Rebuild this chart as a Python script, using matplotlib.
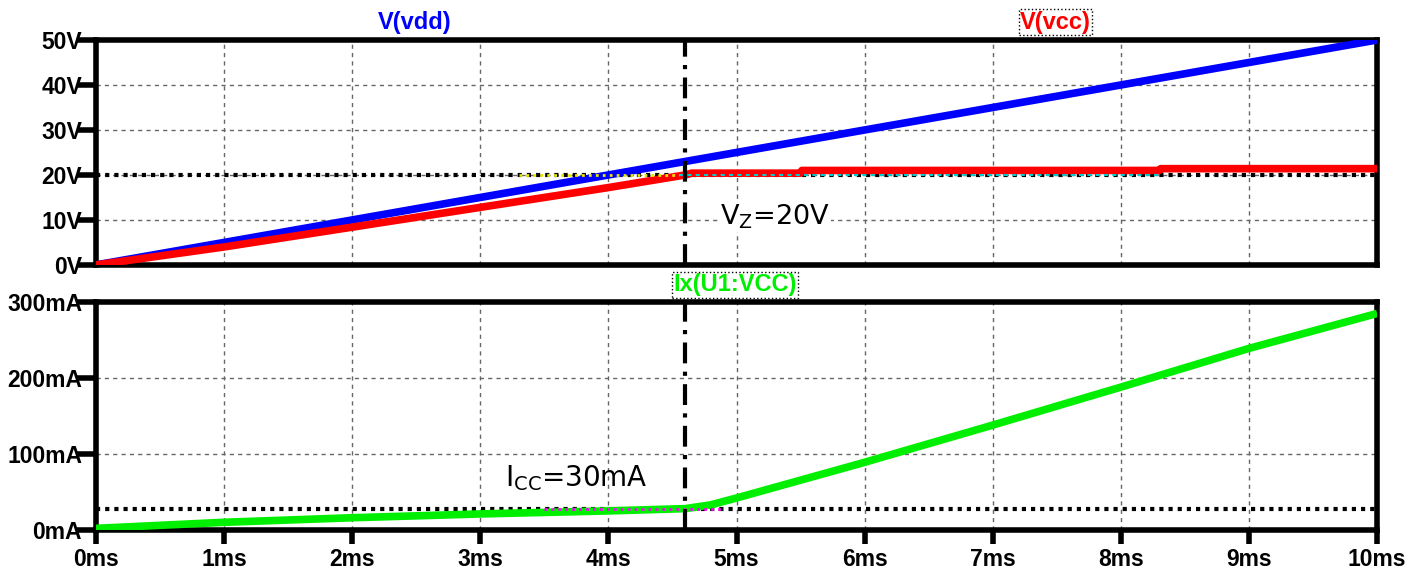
import numpy as np
import matplotlib
matplotlib.use("Agg")
import matplotlib.pyplot as plt

# time axis (ms)
t_ms = [0, 1, 2, 3, 4, 4.6, 5, 5.5, 6, 7, 8, 8.3, 9, 10]

# top panel: voltages (V)
v_vdd = [0, 5, 10, 15, 20, 23, 25, 27.5, 30, 35, 40, 41.5, 45, 50]
t_vcc = [0, 1, 2, 3, 4, 4.6, 4.65, 5.5, 5.51, 8.3, 8.31, 10]
v_vcc = [0, 4.0, 8.4, 12.8, 17.2, 20.0, 20.4, 20.4, 21.0, 21.0, 21.4, 21.4]

# bottom panel: current (mA)
t_icc = [0, 1, 2, 3, 4, 4.6, 4.8, 5, 6, 7, 8, 9, 10]
i_vcc = [2, 10, 16, 21, 25, 28, 33, 42, 89, 138, 188, 239, 285]

vz = 20
icc = 28
t_cursor = 4.6

vticks = [0, 10, 20, 30, 40, 50]
vlabels = ["0V", "10V", "20V", "30V", "40V", "50V"]
iticks = [0, 100, 200, 300]
ilabels = ["0mA", "100mA", "200mA", "300mA"]
xticks = list(range(11))
xlabels = [f"{i}ms" for i in xticks]

plt.rcParams['font.family'] = ['Liberation Sans', 'DejaVu Sans']

fig = plt.figure(figsize=(14.11, 5.71), dpi=100)
ax1 = fig.add_axes([0.068, 0.536, 0.908, 0.394])
ax2 = fig.add_axes([0.068, 0.072, 0.908, 0.399])


def style(ax, yt, yl):
    ax.set_xlim(0, 10)
    ax.set_xticks(xticks)
    ax.set_yticks(yt)
    ax.set_yticklabels(yl, fontsize=16.5, fontweight="bold")
    ax.grid(True, color="#666666", linestyle=(0, (3, 3)), linewidth=1)
    for s in ax.spines.values():
        s.set_linewidth(4)
    ax.tick_params(axis="y", length=14, width=4, pad=-4)
    ax.tick_params(axis="x", length=10, width=4, pad=3)


style(ax1, vticks, vlabels)
ax1.set_ylim(0, 50)
ax1.set_xticklabels([])
ax1.tick_params(axis="x", length=0)

style(ax2, iticks, ilabels)
ax2.set_ylim(0, 300)
ax2.set_xticklabels(xlabels, fontsize=16.5, fontweight="bold")

# top traces
ax1.axhline(vz, color="black", linestyle=(0, (1, 1.2)), linewidth=3, zorder=2)
ax1.plot(t_ms, v_vdd, color="#0000ff", linewidth=5.5, solid_capstyle="butt", zorder=3)
ax1.plot(t_vcc, v_vcc, color="#ff0000", linewidth=5.5, solid_capstyle="butt", zorder=3)
ax1.plot([3.3, 4.55], [vz, vz], color="#e8e800", linestyle=(0, (1, 1.5)), linewidth=2, zorder=4)
ax1.plot([4.55, 8.3], [vz, vz], color="#00cccc", linestyle=(0, (2, 2)), linewidth=1.5, zorder=4)
ax1.axvline(t_cursor, color="black", linestyle=(0, (5, 2, 1, 2)), linewidth=3, zorder=5)
ax1.text(4.87, 10.8, r"V$_\mathrm{Z}$=20V", fontsize=19.5, family="DejaVu Sans",
         va="center", ha="left", zorder=6,
         bbox=dict(facecolor="white", edgecolor="none", pad=1))

# bottom traces
ax2.axhline(icc, color="black", linestyle=(0, (1, 1.2)), linewidth=3, zorder=2)
ax2.plot(t_icc, i_vcc, color="#00ee00", linewidth=5.5, solid_capstyle="butt", zorder=3)
ax2.plot([3.5, 4.9], [icc, icc], color="#ff00ff", linestyle=(0, (1, 1.5)), linewidth=2, zorder=4)
ax2.axvline(t_cursor, color="black", linestyle=(0, (5, 2, 1, 2)), linewidth=3, zorder=5)
ax2.text(3.19, 68, r"I$_\mathrm{CC}$=30mA", fontsize=20, family="DejaVu Sans",
         va="center", ha="left", zorder=6)

# trace names
fig.text(0.294, 0.961, "V(vdd)", color="#0000ff", fontsize=17, fontweight="bold",
         ha="center", va="center")
fig.text(0.748, 0.961, "V(vcc)", color="#ff0000", fontsize=17, fontweight="bold",
         ha="center", va="center",
         bbox=dict(facecolor="white", edgecolor="black", linestyle=":", linewidth=1, pad=1))
fig.text(0.521, 0.501, "Ix(U1:VCC)", color="#00ee00", fontsize=17, fontweight="bold",
         ha="center", va="center",
         bbox=dict(facecolor="white", edgecolor="black", linestyle=":", linewidth=1, pad=1))

fig.savefig("out.png", dpi=100)
